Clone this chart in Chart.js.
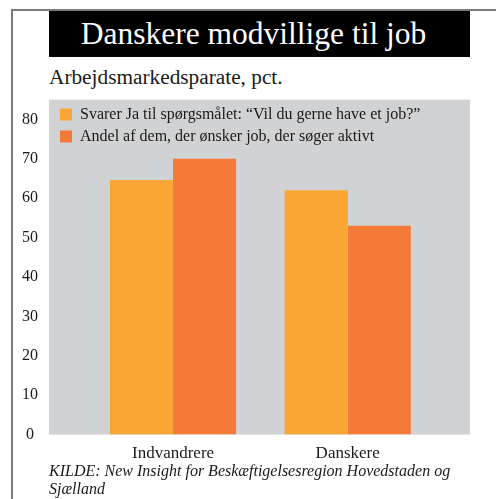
<!DOCTYPE html>
<html>
<head>
<meta charset="utf-8">
<script src="https://cdn.jsdelivr.net/npm/chart.js@4/dist/chart.umd.min.js"></script>
<style>
  html, body { margin: 0; padding: 0; background: #fff; }
  body { width: 496px; height: 499px; position: relative; overflow: hidden; font-family: "Liberation Serif", "DejaVu Serif", serif; color: #1a1a1a; }
  .frame { position: absolute; left: 11px; top: 9px; right: 0; bottom: 0; border-top: 2px solid #7c7c7c; border-left: 2px solid #7c7c7c; }
  .title { position: absolute; left: 49px; top: 11px; width: 409px; height: 46px; padding-right: 12px; background: #000; color: #fff; font-size: 31.5px; line-height: 46px; text-align: center; }
  .subtitle { position: absolute; left: 49px; top: 64px; font-size: 21.3px; line-height: 26px; }
  .wrap { position: absolute; left: 14px; top: 87px; width: 482px; height: 382px; }
  .source { position: absolute; left: 49px; top: 462px; font-size: 16px; line-height: 18px; font-style: italic; }
</style>
</head>
<body>
<div class="frame"></div>
<div class="title">Danskere modvillige til job</div>
<div class="subtitle">Arbejdsmarkedsparate, pct.</div>
<div class="wrap"><canvas id="chart"></canvas></div>
<div class="source">KILDE: New Insight for Beskæftigelsesregion Hovedstaden og<br>Sjælland</div>
<script>
  // Data
  const categories = ['Indvandrere', 'Danskere'];
  const seriesNames = [
    'Svarer Ja til spørgsmålet: \u201cVil du gerne have et job?\u201d',
    'Andel af dem, der ønsker job, der søger aktivt'
  ];
  const svarerJa = [64.6, 62];
  const soegerAktivt = [70, 53];
  const yTicks = [0, 10, 20, 30, 40, 50, 60, 70, 80];

  const COLORS = {
    panel: '#D1D2D4',
    bar1: '#F9A634',
    bar2: '#F47A38',
    text: '#1a1a1a'
  };
  const FONT = '"Liberation Serif", "DejaVu Serif", serif';

  const toPoints = arr => arr.map((v, i) => ({ x: i, y: v }));

  // Grå baggrund i plotområdet + legenden rykket lidt ind fra kanten
  const panelBg = {
    id: 'panelBg',
    afterLayout(chart) {
      chart.legend.left = chart.chartArea.left + 5;
      chart.legend.top = chart.chartArea.top + 1;
    },
    beforeDraw(chart) {
      const a = chart.chartArea, ctx = chart.ctx;
      ctx.save();
      ctx.fillStyle = COLORS.panel;
      ctx.fillRect(a.left, a.top, a.right - a.left, a.bottom - a.top);
      ctx.restore();
    }
  };

  new Chart(document.getElementById('chart'), {
    type: 'bar',
    data: {
      datasets: [
        { label: seriesNames[0], data: toPoints(svarerJa), backgroundColor: COLORS.bar1, categoryPercentage: 0.722, barPercentage: 1 },
        { label: seriesNames[1], data: toPoints(soegerAktivt), backgroundColor: COLORS.bar2, categoryPercentage: 0.722, barPercentage: 1 }
      ]
    },
    options: {
      animation: false,
      responsive: true,
      maintainAspectRatio: false,
      layout: { padding: { top: 6, right: 26, bottom: 4, left: 0 } },
      scales: {
        x: {
          type: 'linear',
          offset: false,
          min: -0.71,
          max: 1.70,
          grid: { display: false },
          border: { display: false },
          afterBuildTicks: s => { s.ticks = categories.map((c, i) => ({ value: i })); },
          ticks: {
            autoSkip: false,
            maxRotation: 0,
            padding: 1,
            color: COLORS.text,
            font: { family: FONT, size: 17 },
            callback: v => categories[v]
          }
        },
        y: {
          min: 0,
          max: 85,
          grid: { display: false },
          border: { display: false },
          afterBuildTicks: s => { s.ticks = yTicks.map(v => ({ value: v })); },
          afterFit: s => { s.width = 35; },
          ticks: {
            crossAlign: 'center',
            color: COLORS.text,
            font: { family: FONT, size: 16 }
          }
        }
      },
      plugins: {
        legend: {
          position: 'chartArea',
          align: 'start',
          labels: {
            color: COLORS.text,
            boxWidth: 12,
            boxHeight: 12,
            padding: 6,
            font: { family: FONT, size: 16 }
          }
        },
        tooltip: { enabled: false }
      }
    },
    plugins: [panelBg]
  });
</script>
</body>
</html>
